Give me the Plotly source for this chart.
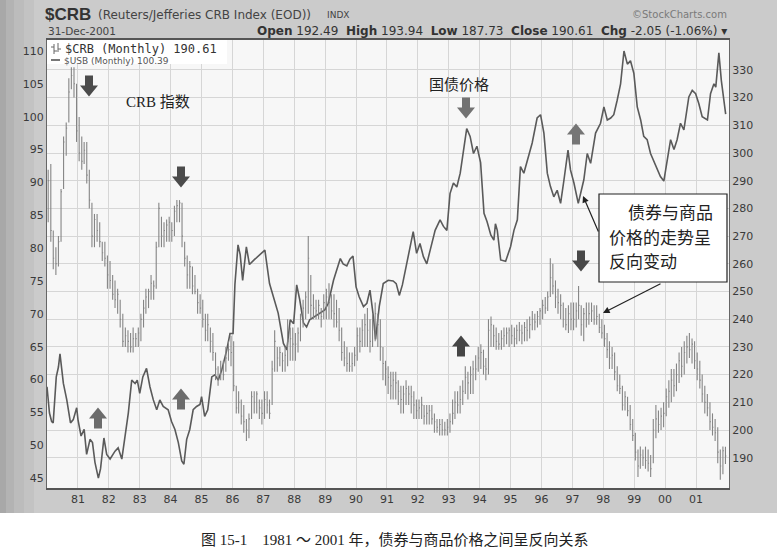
import plotly.graph_objects as go
import pandas as pd

# ---------------- data ----------------
years = list(range(1981, 2002))
year_labels = [f"{y % 100:02d}" for y in years]

# $CRB monthly bars, Jan 1980 .. Dec 2001 (high / low / close)
crb_high = [
    294, 296, 272, 266, 270, 287, 306, 311, 327, 331, 331, 325,   # 1980
    313, 306, 304, 304, 294, 282, 278, 278, 275, 268, 268, 263,   # 1981
    261, 256, 254, 251, 247, 242, 237, 236, 235, 237, 235, 237,   # 1982
    242, 247, 251, 251, 256, 254, 268, 282, 277, 275, 276, 277,   # 1983
    275, 281, 283, 283, 282, 268, 263, 261, 259, 256, 251, 249,   # 1984
    247, 242, 242, 237, 235, 228, 223, 225, 225, 230, 232, 234,   # 1985
    232, 216, 214, 211, 209, 204, 206, 214, 214, 214, 211, 211,   # 1986
    214, 214, 211, 225, 236, 230, 230, 228, 230, 240, 237, 237,   # 1987
    235, 237, 242, 247, 250, 270, 256, 249, 247, 247, 244, 249,   # 1988
    251, 253, 249, 249, 247, 244, 237, 232, 230, 228, 228, 230,   # 1989
    237, 237, 240, 242, 244, 240, 242, 246, 242, 240, 230, 225,   # 1990
    223, 221, 221, 221, 218, 216, 216, 218, 216, 216, 214, 211,   # 1991
    211, 212, 209, 209, 209, 209, 206, 204, 204, 204, 203, 204,   # 1992
    206, 211, 214, 214, 216, 218, 223, 221, 223, 225, 227, 230,   # 1993
    231, 229, 226, 240, 241, 238, 237, 235, 236, 237, 237, 237,   # 1994
    238, 237, 238, 239, 238, 239, 240, 241, 243, 242, 243, 244,   # 1995
    247, 248, 250, 262, 260, 254, 251, 249, 246, 244, 245, 246,   # 1996
    246, 246, 252, 245, 244, 246, 246, 246, 245, 245, 242, 240,   # 1997
    238, 235, 232, 230, 228, 223, 220, 216, 214, 212, 209, 204,   # 1998
    199, 193, 194, 193, 194, 193, 191, 204, 209, 207, 208, 210,   # 1999
    215, 218, 222, 222, 224, 228, 230, 232, 234, 235, 233, 232,   # 2000
    228, 225, 220, 216, 213, 210, 206, 204, 201, 193, 194, 193.94,  # 2001
]
crb_low = [
    275, 268, 258, 256, 259, 268, 287, 299, 311, 323, 320, 304,
    297, 294, 296, 289, 280, 266, 266, 268, 266, 261, 259, 251,
    251, 247, 244, 242, 237, 230, 230, 228, 228, 228, 230, 230,
    232, 237, 242, 244, 247, 247, 251, 266, 266, 266, 268, 268,
    268, 270, 275, 275, 266, 259, 251, 251, 249, 249, 242, 242,
    237, 232, 232, 228, 225, 218, 216, 218, 218, 221, 225, 223,
    214, 206, 206, 202, 199, 196, 197, 204, 206, 206, 204, 202,
    204, 206, 204, 209, 221, 221, 223, 221, 221, 223, 225, 225,
    225, 228, 232, 237, 240, 242, 240, 240, 240, 240, 237, 240,
    240, 240, 240, 237, 237, 232, 225, 223, 221, 221, 221, 223,
    225, 228, 230, 230, 230, 228, 230, 232, 230, 225, 218, 216,
    213, 211, 211, 211, 209, 206, 206, 209, 209, 206, 204, 204,
    204, 204, 202, 202, 202, 202, 199, 199, 198, 198, 198, 198,
    199, 202, 204, 206, 206, 209, 213, 211, 213, 213, 218, 221,
    222, 220, 218, 220, 230, 230, 229, 229, 229, 230, 231, 230,
    231, 230, 231, 232, 231, 232, 232, 233, 236, 236, 237, 238,
    240, 242, 243, 248, 249, 244, 242, 240, 237, 236, 235, 236,
    236, 237, 240, 234, 232, 237, 238, 239, 238, 238, 235, 233,
    230, 226, 222, 222, 218, 214, 213, 207, 207, 205, 200, 196,
    189, 183, 186, 187, 186, 185, 183, 188, 197, 199, 200, 201,
    205, 208, 210, 212, 214, 217, 219, 220, 224, 226, 224, 222,
    218, 215, 210, 206, 205, 200, 198, 196, 188, 182, 184, 187.73,
]
crb_close = [
    290, 272, 262, 260, 268, 286, 304, 309, 322, 328, 325, 308,
    300, 297, 301, 292, 283, 270, 276, 272, 268, 264, 262, 256,
    254, 249, 247, 249, 240, 232, 234, 232, 230, 233, 233, 235,
    240, 244, 248, 250, 253, 252, 266, 280, 270, 272, 274, 275,
    272, 279, 281, 282, 270, 262, 256, 259, 252, 250, 246, 244,
    240, 236, 238, 232, 228, 222, 219, 222, 220, 226, 229, 228,
    216, 208, 210, 205, 203, 200, 204, 212, 210, 213, 208, 206,
    211, 209, 206, 222, 232, 226, 228, 225, 227, 232, 233, 231,
    231, 235, 240, 244, 248, 262, 245, 244, 243, 245, 241, 246,
    248, 246, 243, 242, 239, 236, 228, 226, 224, 223, 224, 227,
    234, 232, 236, 238, 236, 232, 239, 242, 238, 230, 224, 222,
    219, 216, 218, 217, 214, 211, 213, 215, 213, 212, 209, 207,
    208, 209, 205, 206, 207, 204, 203, 201, 202, 200, 200, 201,
    203, 206, 210, 209, 211, 214, 219, 217, 220, 222, 222, 226,
    228, 223, 222, 236, 238, 234, 232, 231, 233, 234, 235, 236,
    234, 233, 236, 236, 235, 237, 236, 238, 240, 239, 241, 243,
    245, 244, 248, 255, 252, 248, 246, 245, 240, 238, 242, 240,
    240, 243, 245, 238, 242, 240, 242, 243, 240, 241, 237, 235,
    233, 229, 226, 227, 221, 216, 215, 209, 212, 207, 202, 198,
    192, 187, 191, 190, 189, 188, 186, 200, 204, 202, 205, 206,
    212, 214, 218, 216, 220, 225, 223, 228, 230, 229, 231, 225,
    222, 218, 213, 210, 208, 203, 201, 199, 192, 187, 192.49, 190.61,
]

# $USB (30-yr T-bond) monthly line: time (decimal year) and value
usb_t = [
    1980.00, 1980.08, 1980.15, 1980.20, 1980.30, 1980.37, 1980.42, 1980.53, 1980.64, 1980.76,
    1980.85, 1980.96, 1981.00, 1981.10, 1981.20, 1981.28, 1981.39, 1981.47, 1981.55, 1981.66,
    1981.73, 1981.84, 1981.93, 1982.04, 1982.20, 1982.30, 1982.42, 1982.53, 1982.63, 1982.74,
    1982.85, 1982.92, 1983.00, 1983.10, 1983.22, 1983.33, 1983.44, 1983.55, 1983.65, 1983.76,
    1983.92, 1984.03, 1984.14, 1984.25, 1984.36, 1984.43, 1984.52, 1984.62, 1984.73, 1984.84,
    1984.95, 1985.00, 1985.10, 1985.20, 1985.33, 1985.43, 1985.54, 1985.65, 1985.81, 1985.92,
    1986.02, 1986.08, 1986.18, 1986.25, 1986.33, 1986.45, 1986.55, 1986.70, 1986.85, 1987.05,
    1987.20, 1987.32, 1987.48, 1987.65, 1987.76, 1987.87, 1987.98, 1988.08, 1988.18, 1988.30,
    1988.40, 1988.50, 1988.67, 1988.83, 1988.99, 1989.10, 1989.27, 1989.49, 1989.58, 1989.70,
    1989.80, 1989.90, 1990.00, 1990.10, 1990.24, 1990.35, 1990.45, 1990.56, 1990.63, 1990.75,
    1990.88, 1991.04, 1991.20, 1991.30, 1991.40, 1991.50, 1991.69, 1991.85, 1991.96, 1992.07,
    1992.18, 1992.29, 1992.40, 1992.56, 1992.72, 1992.83, 1992.94, 1993.04, 1993.15, 1993.26,
    1993.37, 1993.48, 1993.58, 1993.69, 1993.80, 1993.91, 1994.03, 1994.14, 1994.24, 1994.36,
    1994.46, 1994.51, 1994.57, 1994.68, 1994.84, 1995.00, 1995.11, 1995.22, 1995.32, 1995.43,
    1995.54, 1995.70, 1995.86, 1995.97, 1996.08, 1996.19, 1996.29, 1996.40, 1996.51, 1996.62,
    1996.73, 1996.86, 1996.94, 1997.05, 1997.19, 1997.27, 1997.37, 1997.48, 1997.59, 1997.75,
    1997.91, 1998.02, 1998.13, 1998.24, 1998.34, 1998.45, 1998.56, 1998.67, 1998.78, 1998.88,
    1998.99, 1999.10, 1999.21, 1999.31, 1999.42, 1999.53, 1999.69, 1999.85, 1999.96, 2000.07,
    2000.18, 2000.29, 2000.39, 2000.50, 2000.61, 2000.77, 2000.88, 2000.99, 2001.09, 2001.20,
    2001.37, 2001.47, 2001.58, 2001.64, 2001.69, 2001.74, 2001.82, 2001.96,
]
usb_v = [
    58.9, 54.9, 53.6, 53.4, 60.4, 61.9, 63.9, 59.4, 56.9, 53.4,
    53.9, 55.7, 53.9, 51.4, 52.4, 48.6, 50.9, 50.4, 47.4, 45.0,
    46.4, 51.1, 48.6, 47.9, 49.1, 49.6, 47.9, 51.4, 54.9, 59.9,
    59.4, 59.9, 57.9, 60.4, 61.7, 58.9, 56.9, 55.4, 56.9, 55.9,
    55.4, 53.6, 52.4, 50.4, 47.6, 47.1, 50.9, 52.4, 55.4, 55.9,
    56.2, 57.4, 54.4, 55.4, 60.4, 60.7, 59.9, 61.4, 64.4, 67.0,
    67.0, 74.5, 80.5, 79.0, 75.1, 80.2, 77.5, 78.2, 78.8, 79.7,
    74.6, 72.6, 70.1, 65.5, 64.5, 69.1, 68.5, 74.4, 72.1, 68.6,
    68.0, 69.1, 69.6, 70.1, 70.6, 71.6, 75.1, 78.4, 77.6, 77.3,
    78.3, 78.8, 74.1, 72.6, 71.1, 71.6, 73.6, 69.6, 66.1, 71.1,
    74.6, 75.1, 75.0, 74.6, 72.8, 74.4, 78.7, 82.5, 79.2, 80.7,
    78.7, 77.6, 79.7, 82.7, 84.3, 83.3, 82.7, 88.3, 89.9, 89.3,
    91.4, 94.9, 98.2, 97.0, 94.4, 95.5, 93.0, 85.3, 84.0, 82.0,
    81.2, 83.7, 82.7, 78.2, 78.0, 80.2, 82.7, 84.3, 92.4, 91.4,
    93.4, 96.0, 99.8, 100.3, 97.5, 91.4, 89.4, 87.8, 88.8, 86.8,
    90.4, 94.9, 91.9, 89.9, 86.8, 88.3, 90.4, 94.4, 92.9, 97.5,
    99.0, 101.5, 99.5, 99.8, 100.3, 102.5, 105.0, 110.0, 108.0, 108.5,
    106.6, 101.5, 99.5, 97.0, 96.5, 94.4, 92.6, 90.9, 90.2, 93.4,
    96.5, 95.0, 96.5, 99.0, 98.0, 103.0, 104.0, 103.5, 102.0, 100.0,
    99.5, 103.5, 105.0, 104.5, 107.7, 109.7, 105.5, 100.39,
]

# ---------------- helpers ----------------
W, H = 777, 556
L_M, R_M, T_M, B_M = 47, 48, 40, 68
PW, PH = W - L_M - R_M, H - T_M - B_M


def px(x, y):
    """pixel position -> paper coordinates (for decorations only)"""
    return (x - L_M) / PW, (H - B_M - y) / PH


def dec2date(t):
    y = int(t)
    return pd.Timestamp(f"{y}-01-01") + pd.Timedelta(days=(t - y) * 365.25)


months = pd.date_range("1980-01-01", periods=len(crb_close), freq="MS") + pd.Timedelta(days=14)
usb_dates = [dec2date(t) for t in usb_t]

# HLC bars for CRB built from the arrays
bx, by = [], []
for d, hi, lo, cl in zip(months, crb_high, crb_low, crb_close):
    bx += [d, d, None, d, d + pd.Timedelta(days=11), None]
    by += [lo, hi, None, cl, cl, None]

fig = go.Figure()
fig.add_trace(go.Scatter(x=bx, y=by, mode="lines", yaxis="y2",
                         line=dict(color="#858585", width=1.1), hoverinfo="skip"))
fig.add_trace(go.Scatter(x=usb_dates, y=usb_v, mode="lines", yaxis="y",
                         line=dict(color="#5a5a5a", width=1.6)))

tickfont = dict(family="DejaVu Sans", size=11, color="#3a3a3a")
fig.update_layout(
    width=W, height=H, autosize=False,
    margin=dict(l=L_M, r=R_M, t=T_M, b=B_M, pad=0),
    paper_bgcolor="#cbcbcb", plot_bgcolor="#f7f7f7", showlegend=False,
    xaxis=dict(type="date", range=["1980-01-01", "2002-01-26"],
               tickvals=[f"{y}-01-01" for y in years], ticktext=year_labels,
               showgrid=True, gridcolor="#d6d6d6", gridwidth=1, ticks="",
               showline=True, linecolor="#555", linewidth=1.5, mirror=True,
               zeroline=False, tickfont=tickfont, ticklabelstandoff=0),
    yaxis=dict(range=[43.49, 111.67], tickvals=list(range(45, 111, 5)),
               showgrid=False, zeroline=False, ticks="", showline=True,
               linecolor="#666", linewidth=1, tickfont=tickfont),
    yaxis2=dict(overlaying="y", side="right", range=[179.06, 340.8],
                tickvals=list(range(190, 331, 10)), showgrid=True,
                gridcolor="#d6d6d6", gridwidth=1, zeroline=False, ticks="",
                showline=True, linecolor="#666", linewidth=1, tickfont=tickfont),
)

shapes = []
# white page below the chart panel
x0, y0 = px(0, 513)
x1, y1 = px(W, H)
shapes.append(dict(type="rect", xref="paper", yref="paper", x0=x0, x1=x1, y0=y1, y1=y0,
                   fillcolor="white", line=dict(width=0), layer="below"))
# darker left edge of the scanned panel
for a, b, c in [(0, 6, "#a8a8a8"), (6, 14, "#b3b3b3"), (14, 24, "#bcbcbc"), (24, 34, "#c3c3c3")]:
    xa, ya = px(a, 0)
    xb, yb = px(b, 513)
    shapes.append(dict(type="rect", xref="paper", yref="paper", x0=xa, x1=xb, y0=yb, y1=ya,
                       fillcolor=c, line=dict(width=0), layer="below"))

# legend box
lx0, ly0 = px(47, 40)
lx1, ly1 = px(227, 64)
shapes.append(dict(type="rect", xref="paper", yref="paper", x0=lx0, x1=lx1, y0=ly1, y1=ly0,
                   fillcolor="white", line=dict(width=0)))
# small bar icon in legend
for (xa, ya, xb, yb) in [(54, 44, 54, 54), (51, 47, 54, 47), (54, 51, 57, 51),
                         (58, 43, 58, 52), (58, 49, 61, 49)]:
    p0 = px(xa, ya)
    p1 = px(xb, yb)
    shapes.append(dict(type="line", xref="paper", yref="paper", x0=p0[0], y0=p0[1],
                       x1=p1[0], y1=p1[1], line=dict(color="#666", width=1)))
p0 = px(51, 60)
p1 = px(60, 60)
shapes.append(dict(type="line", xref="paper", yref="paper", x0=p0[0], y0=p0[1],
                   x1=p1[0], y1=p1[1], line=dict(color="#555", width=1.6)))


def block_arrow(cx, cy, down, color, wh=18, wb=8, h=21, hh=11):
    top, bot = cy - h / 2, cy + h / 2
    if down:
        pts = [(cx - wb / 2, top), (cx + wb / 2, top), (cx + wb / 2, bot - hh),
               (cx + wh / 2, bot - hh), (cx, bot), (cx - wh / 2, bot - hh),
               (cx - wb / 2, bot - hh)]
    else:
        pts = [(cx - wb / 2, bot), (cx + wb / 2, bot), (cx + wb / 2, top + hh),
               (cx + wh / 2, top + hh), (cx, top), (cx - wh / 2, top + hh),
               (cx - wb / 2, top + hh)]
    path = "M " + " L ".join(f"{px(x, y)[0]:.5f},{px(x, y)[1]:.5f}" for x, y in pts) + " Z"
    return dict(type="path", xref="paper", yref="paper", path=path,
                fillcolor=color, line=dict(width=0))


for cx, cy, down, col in [
    (89, 86, True, "#4b4b4b"), (181, 177, True, "#4b4b4b"),
    (466, 108, True, "#727272"), (581, 261, True, "#484848"),
    (98, 418, False, "#6c6c6c"), (181, 399, False, "#6c6c6c"),
    (461, 346, False, "#454545"), (576, 134, False, "#767676"),
]:
    shapes.append(block_arrow(cx, cy, down, col))

# callout box
bx0, by0 = px(599, 194)
bx1, by1 = px(727, 282)
shapes.append(dict(type="rect", xref="paper", yref="paper", x0=bx0, x1=bx1, y0=by1, y1=by0,
                   fillcolor="white", line=dict(color="#222", width=1.2)))

fig.update_layout(shapes=shapes)

ann = []


def text(x, y, s, size, color="#222", family="DejaVu Sans", xanchor="left", bg=None):
    xp, yp = px(x, y)
    d = dict(x=xp, y=yp, xref="paper", yref="paper", text=s, showarrow=False,
             xanchor=xanchor, yanchor="middle", font=dict(size=size, color=color, family=family))
    if bg:
        d["bgcolor"] = bg
    ann.append(d)


serif_cjk = "Liberation Serif, Noto Sans CJK SC, serif"

# header
text(43, 14, "<b>$CRB</b>", 17, "#333", "Liberation Sans")
text(96, 15, "(Reuters/Jefferies CRB Index (EOD))", 12, "#444", "DejaVu Sans")
text(325, 15, "INDX", 9, "#444", "DejaVu Sans")
text(46, 31, "31-Dec-2001", 10.5, "#444", "DejaVu Sans")
text(729, 31, "<b>Open</b> 192.49  <b>High</b> 193.94  <b>Low</b> 187.73  <b>Close</b> 190.61  "
     "<b>Chg</b> -2.05 (-1.06%) ▾", 12, "#333", "DejaVu Sans", xanchor="right")
text(729, 14, "©StockCharts.com", 10, "#7a7a7a", "DejaVu Sans", xanchor="right")

# legend texts
text(63, 49, "$CRB (Monthly) 190.61", 12, "#333", "DejaVu Sans Mono")
text(62, 61, "$USB (Monthly) 100.39", 9, "#555", "DejaVu Sans")

# chart annotations
text(158, 102, "CRB 指数", 15, "#222", serif_cjk, xanchor="center")
text(459, 85, "国债价格", 15, "#222", serif_cjk, xanchor="center")
text(626, 214, "债券与商品", 17, "#222", serif_cjk)
text(607, 238, "价格的走势呈", 17, "#222", serif_cjk)
text(607, 262, "反向变动", 17, "#222", serif_cjk)

# caption
text(395, 540, "图 15-1　1981 ～ 2001 年，债券与商品价格之间呈反向关系", 15, "#222",
     serif_cjk, xanchor="center")

# callout arrows
for (hx, hy, tx, ty) in [(583, 196, 599, 233), (603, 313, 662, 283)]:
    xp, yp = px(hx, hy)
    ann.append(dict(x=xp, y=yp, xref="paper", yref="paper", text="", showarrow=True,
                    ax=tx - hx, ay=ty - hy, arrowhead=2, arrowsize=1.1, arrowwidth=1.2,
                    arrowcolor="#222", standoff=0))

fig.update_layout(annotations=ann)
fig.write_html("out.html", config={"displayModeBar": False},
               post_script="document.body.style.margin='0';document.body.style.overflow='hidden';")
